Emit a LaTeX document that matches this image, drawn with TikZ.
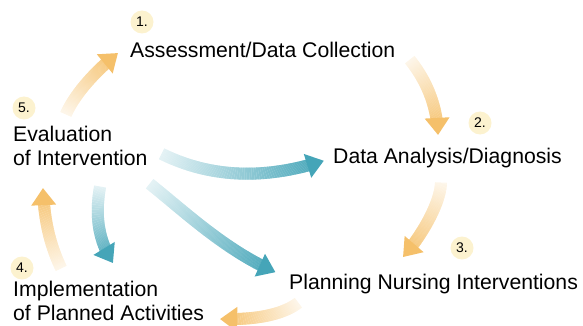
\documentclass[tikz,border=0pt]{standalone}
\usepackage{fontspec}
\setmainfont{Liberation Sans}
\usetikzlibrary{decorations.markings}

\definecolor{numfill}{HTML}{FCF2CF}
\definecolor{cycorange}{HTML}{F5C06A}
\definecolor{crossteal}{HTML}{45A5B8}

\begin{document}
\begin{tikzpicture}[x=1pt, y=-1pt,
    stage/.style={anchor=base west, align=left, inner sep=0pt,
      font=\fontsize{21.2}{23.5}\selectfont},
    num/.style={circle, fill=numfill, minimum size=23pt, inner sep=0pt,
      font=\fontsize{14}{14}\selectfont},
    flow/.style={decoration={markings,
        mark=between positions 0 and -16pt step 0.7pt with {
          \pgfmathsetmacro\mixval{14+86*\pgfkeysvalueof{/pgf/decoration/mark info/distance from start}/\pgfdecoratedpathlength}
          \fill[#1!\mixval!white] (-0.5,-6) rectangle (0.5,6);},
        mark=at position -3pt with {\fill[#1] (-14,-12.5) -- (3,0) -- (-14,12.5) -- cycle;}},
      decorate}]
  \useasboundingbox (0,0) rectangle (583,326);

  \node[stage] (assess) at (130,58) {Assessment/Data Collection};
  \node[stage] (diag) at (333,163) {Data Analysis/Diagnosis};
  \node[stage] (plan) at (289,289) {Planning Nursing Interventions};
  \node[stage] (impl) at (13,320) {Implementation\\of Planned Activities};
  \node[stage] (eval) at (13,165) {Evaluation\\of Intervention};

  \node[num] (n1) at (142,22) {1.};
  \node[num] (n2) at (480,123) {2.};
  \node[num] (n3) at (462,248) {3.};
  \node[num] (n4) at (22,268) {4.};
  \node[num] (n5) at (24,108) {5.};

  \coordinate (evalout) at (66,114);
  \coordinate (assessin) at (118,53);
  \coordinate (assessout) at (410,60);
  \coordinate (diagin) at (438,135);
  \coordinate (diagout) at (441,183);
  \coordinate (planin) at (403,257);
  \coordinate (planout) at (298,303);
  \coordinate (implin) at (220,319);
  \coordinate (implout) at (61,268);
  \coordinate (evalin) at (43,188);
  \coordinate (evaldiag) at (162,154);
  \coordinate (diagleft) at (323,161);
  \coordinate (evalplan) at (150,184);
  \coordinate (planleft) at (275,272);
  \coordinate (evalimpl) at (100,187);
  \coordinate (impltop) at (113,263);

  \path[flow=cycorange] (evalout) .. controls (74,96) and (92,74) .. (assessin);
  \path[flow=cycorange] (assessout) .. controls (422,75) and (437,100) .. (diagin);
  \path[flow=cycorange] (diagout) .. controls (440,205) and (420,238) .. (planin);
  \path[flow=cycorange] (planout) .. controls (282,315) and (255,320) .. (implin);
  \path[flow=cycorange] (implout) .. controls (50,245) and (44,220) .. (evalin);

  \path[flow=crossteal] (evaldiag) .. controls (215,180) and (270,178) .. (diagleft);
  \path[flow=crossteal] (evalplan) .. controls (185,212) and (225,250) .. (planleft);
  \path[flow=crossteal] (evalimpl) .. controls (95,215) and (98,240) .. (impltop);
\end{tikzpicture}
\end{document}
